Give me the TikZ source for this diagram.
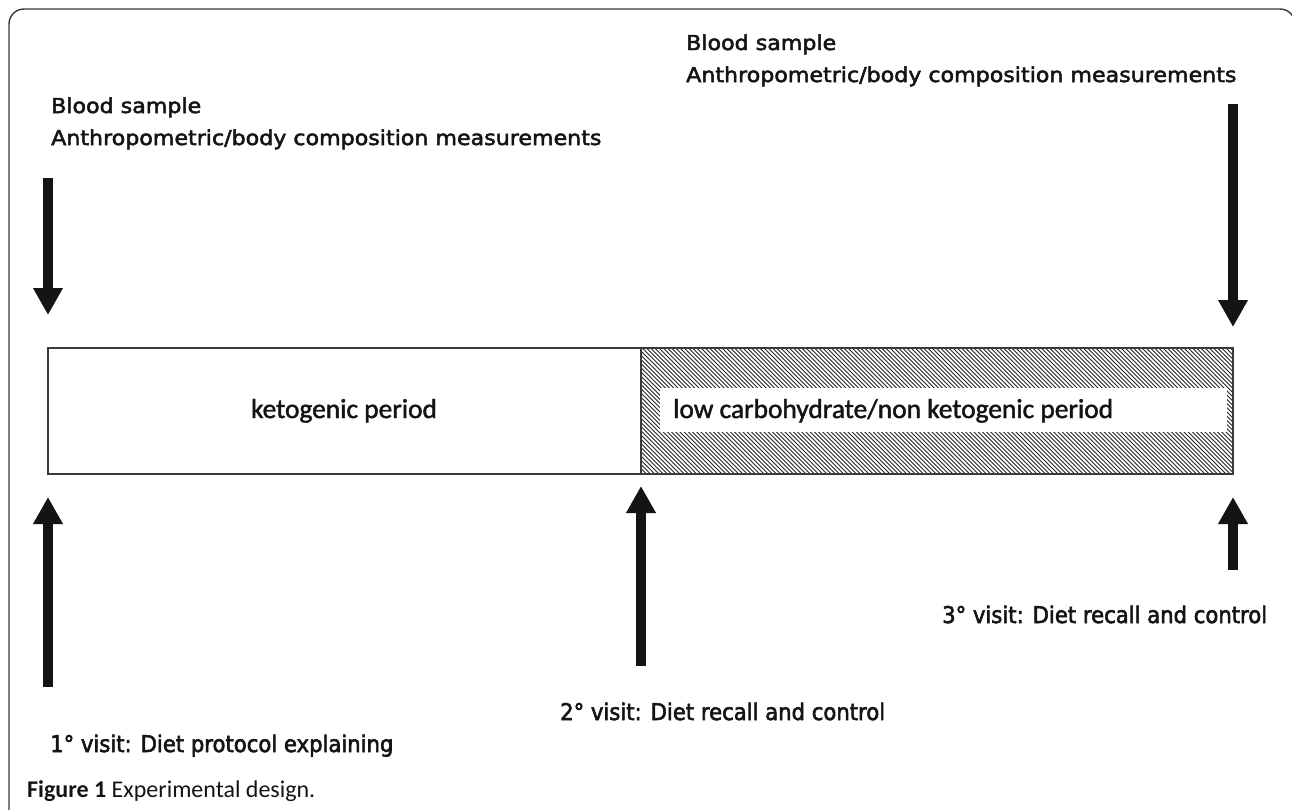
\documentclass[tikz,border=0pt]{standalone}
\usepackage{fontspec}
\usetikzlibrary{arrows.meta}
\newfontfamily\hfont[FakeStretch=1.08,FakeBold=2.4]{DejaVu Sans}
\newfontfamily\vfont[FakeStretch=0.92,FakeBold=2.4]{DejaVu Sans}
\newfontfamily\cfont[FakeBold=1.6]{Carlito}
\newfontfamily\capfont{Carlito}
\definecolor{ink}{HTML}{141414}
\definecolor{framecol}{HTML}{3A3A3A}
\tikzset{
  headtxt/.style={anchor=base west, inner sep=0, text=ink, font=\hfont\fontsize{20.5}{24}\selectfont},
  visittxt/.style={anchor=base west, inner sep=0, text=ink, font=\vfont\fontsize{23}{27}\selectfont},
  boxtxt/.style={inner sep=0, text=ink, font=\cfont\fontsize{27.4}{31}\selectfont},
  captxt/.style={anchor=base west, inner sep=0, text=ink, font=\capfont\fontsize{24}{28}\selectfont},
  bigarrow/.style={line width=10, -{Triangle[length=27, width=28]}, ink},
  hatchline/.style={line width=0.9, draw=black!85},
  boxborder/.style={draw=framecol, line width=1.4},
  frameline/.style={draw=framecol, line width=1.4, rounded corners=15},
}
\begin{document}
\begin{tikzpicture}[x=1pt,y=-1pt]
\useasboundingbox (0,0) rectangle (1292,809);
\fill[white] (0,0) rectangle (1292,809);
% outer frame
\draw[frameline] (9,840) -- (9,9) -- (1295,9) -- (1295,840);

% hatched period
\begin{scope}
\clip (641,348) rectangle (1233,474);
\foreach \i in {0,...,176} {
  \draw[hatchline] ({512+\i*4.2},348) -- ++(127,127);
}
\end{scope}
\fill[white] (660,388) rectangle (1227,432);
\draw[boxborder] (48,348) rectangle (641,474);
\draw[boxborder] (641,348) rectangle (1233,474);

% period labels
\node[boxtxt, anchor=base] (keto) at (344,418) {ketogenic period};
\node[boxtxt, anchor=base west] (lowc) at (673,418) {low carbohydrate/non ketogenic period};

% headings
\node[headtxt] (bs1) at (51,113) {Blood sample};
\node[headtxt] (am1) at (51,145) {Anthropometric/body composition measurements};
\node[headtxt] (bs2) at (686,50) {Blood sample};
\node[headtxt] (am2) at (686,82) {Anthropometric/body composition measurements};

% visits
\node[visittxt] (v1) at (50,752) {1° visit: Diet protocol explaining};
\node[visittxt] (v2) at (560,720) {2° visit: Diet recall and control};
\node[visittxt] (v3) at (942,623) {3° visit: Diet recall and control};

% caption
\node[captxt] (cap) at (27,797) {\textbf{Figure 1} Experimental design.};

% arrows
\coordinate (d1s) at (48,178);
\coordinate (d1e) at (48,315);
\coordinate (d2s) at (1233,104);
\coordinate (d2e) at (1233,327);
\coordinate (u1s) at (48,687);
\coordinate (u1e) at (48,497);
\coordinate (u2s) at (641,666);
\coordinate (u2e) at (641,486);
\coordinate (u3s) at (1233,570);
\coordinate (u3e) at (1233,497);
\draw[bigarrow] (d1s) -- (d1e);
\draw[bigarrow] (d2s) -- (d2e);
\draw[bigarrow] (u1s) -- (u1e);
\draw[bigarrow] (u2s) -- (u2e);
\draw[bigarrow] (u3s) -- (u3e);
\end{tikzpicture}
\end{document}
